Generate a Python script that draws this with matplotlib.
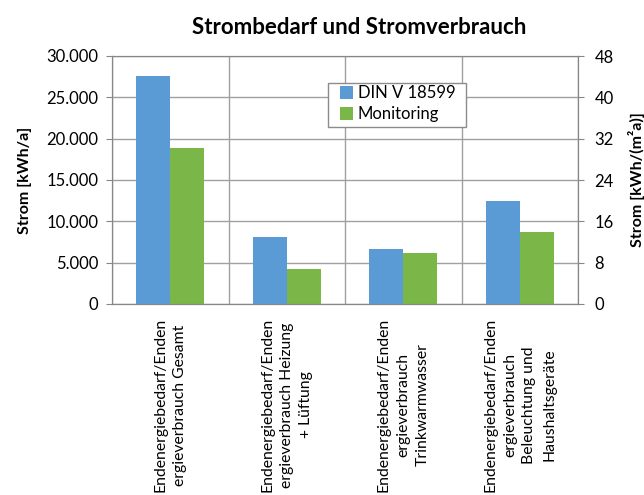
import numpy as np
import matplotlib
matplotlib.use('Agg')
import matplotlib.pyplot as plt
from matplotlib.patches import Rectangle
from matplotlib.ticker import FuncFormatter, MultipleLocator

plt.rcParams['font.family'] = ['Lato', 'DejaVu Sans']

categories = [
    'Endenergiebedarf/Enden\nergieverbrauch Gesamt',
    'Endenergiebedarf/Enden\nergieverbrauch Heizung\n+ Lüftung',
    'Endenergiebedarf/Enden\nergieverbrauch\nTrinkwarmwasser',
    'Endenergiebedarf/Enden\nergieverbrauch\nBeleuchtung und\nHaushaltsgeräte',
]
din = [27600, 8150, 6700, 12500]
monitoring = [18850, 4200, 6150, 8700]

W, H = 644, 495
fig = plt.figure(figsize=(6.44, 4.95), dpi=100)
ax = fig.add_axes([112/W, 1 - 304/H, 466/W, 248/H])

x = np.arange(len(categories))
w = 0.29
ax.bar(x - w/2, din, w, color='#5b9bd5', label='DIN V 18599', zorder=3)
ax.bar(x + w/2, monitoring, w, color='#7ab648', label='Monitoring', zorder=3)

ax.set_xlim(-0.5, len(categories) - 0.5)
ax.set_ylim(0, 30000)
ax.yaxis.set_major_locator(MultipleLocator(5000))
ax.yaxis.set_major_formatter(FuncFormatter(lambda v, p: f'{int(v):,}'.replace(',', '.')))
ax.set_xticks(x)
ax.set_xticklabels(categories, rotation=90, ha='center', va='top', multialignment='center',
                   fontsize=11.3, linespacing=1.5)
ax.set_xticks(np.arange(-0.5, len(categories)), minor=True)
ax.tick_params(axis='x', which='major', length=0, pad=10)
ax.tick_params(axis='x', which='minor', length=0)
ax.tick_params(axis='y', length=4, color='#868686', labelsize=12, pad=6)
ax.grid(True, which='major', axis='y', color='#a0a0a0', lw=1, zorder=0)
ax.grid(True, which='minor', axis='x', color='#a0a0a0', lw=1, zorder=0)
for s in ax.spines.values():
    s.set_color('#868686')

ax2 = ax.twinx()
ax2.set_ylim(0, 48)
ax2.yaxis.set_major_locator(MultipleLocator(8))
ax2.tick_params(axis='y', length=4, color='#868686', labelsize=12, pad=8)
for s in ax2.spines.values():
    s.set_color('#868686')

ax.set_ylabel('Strom [kWh/a]', fontsize=11.5, fontweight='bold', labelpad=10)
ax2.set_ylabel('Strom [kWh/(m²a)]', fontsize=11.5, fontweight='bold', labelpad=10)

fig.text(359/W, 1 - 28/H, 'Strombedarf und Stromverbrauch', ha='center', va='center',
         fontsize=16, fontweight='bold')

# legend box
fig.add_artist(Rectangle((328/W, 1 - 127/H), 138/W, 44/H, transform=fig.transFigure,
                         facecolor='white', edgecolor='#8c8c8c', lw=1, zorder=4))
handles, labels = ax.get_legend_handles_labels()
fig.legend(handles, labels, loc='upper left', bbox_to_anchor=(340/W, 1 - 85/H),
           fontsize=12, frameon=False, borderpad=0, borderaxespad=0,
           handlelength=0.8, handleheight=0.8, handletextpad=0.25, labelspacing=0.3)

fig.savefig('out.png', dpi=100)
